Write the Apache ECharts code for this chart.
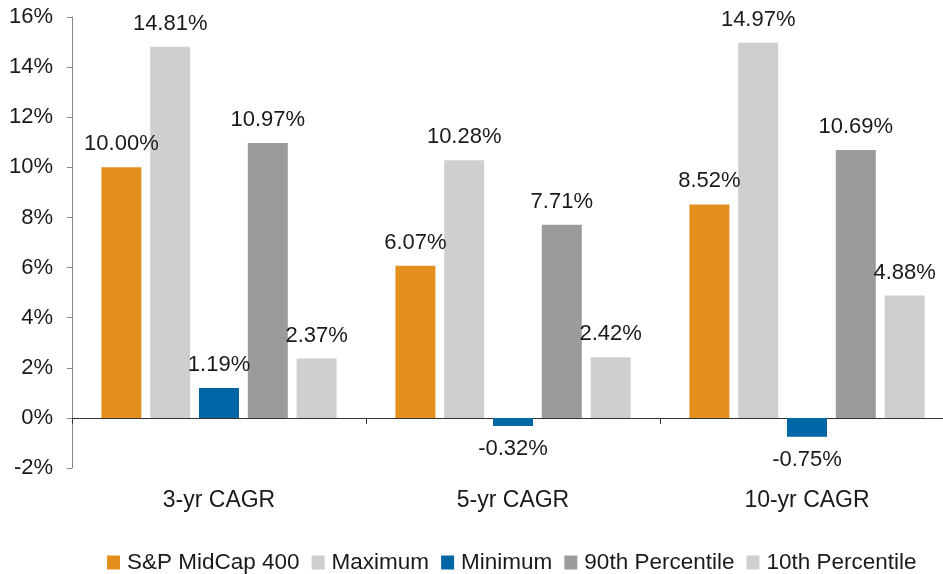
<!DOCTYPE html>
<html>
<head>
<meta charset="utf-8">
<script src="https://cdn.jsdelivr.net/npm/echarts@6/dist/echarts.min.js"></script>
<style>
  html, body { margin: 0; padding: 0; background: #fff; }
  #chart { width: 943px; height: 574px; }
</style>
</head>
<body>
<div id="chart"></div>
<script>
var categories = ['3-yr CAGR', '5-yr CAGR', '10-yr CAGR'];
var seriesNames = ['S&P MidCap 400', 'Maximum', 'Minimum', '90th Percentile', '10th Percentile'];
var midcap = [10.00, 6.07, 8.52];
var maximum = [14.81, 10.28, 14.97];
var minimum = [1.19, -0.32, -0.75];
var pct90 = [10.97, 7.71, 10.69];
var pct10 = [2.37, 2.42, 4.88];
var colors = ['#e28f1e', '#d0cfce', '#0066a6', '#9b9b9e', '#d0cfce'];

var font = 'Liberation Sans, Arial, sans-serif';

function makeSeries(name, values, color) {
    return {
        name: name,
        type: 'bar',
        barWidth: 40,
        barGap: '22%',
        itemStyle: { color: color },
        data: values.map(function (v) {
            return {
                value: v,
                label: { position: v < 0 ? 'bottom' : 'top' }
            }
        }),
        label: {
            show: true,
            distance: 12,
            color: '#1a1a1a',
            fontSize: 22,
            fontFamily: font,
            formatter: function (p) { return p.value.toFixed(2) + '%' }
        }
    }
}

var chart = echarts.init(document.getElementById('chart'));
chart.setOption({
    animation: false,
    color: colors,
    grid: { left: 72, top: 17, width: 882, height: 451, outerBoundsMode: 'none', containLabel: false },
    legend: {
        left: 102,
        top: 546,
        itemWidth: 13,
        itemHeight: 14,
        itemGap: 12,
        icon: 'rect',
        textStyle: { fontSize: 22.5, color: '#1a1a1a', fontFamily: font, padding: [0, 0, 0, 2] },
        data: seriesNames
    },
    xAxis: [
        {
            type: 'category',
            data: categories,
            axisLine: { onZero: true, lineStyle: { color: '#333', width: 1 } },
            axisTick: { show: true, length: 6, lineStyle: { color: '#333' } },
            axisLabel: { show: false }
        },
        {
            type: 'category',
            data: categories,
            position: 'bottom',
            axisLine: { show: false, onZero: false },
            axisTick: { show: false },
            axisLabel: { margin: 21, fontSize: 23, color: '#1a1a1a', fontFamily: font }
        }
    ],
    yAxis: {
        type: 'value',
        min: -2,
        max: 16,
        interval: 2,
        axisLine: { show: true, lineStyle: { color: '#888' } },
        axisTick: { show: true, length: 5, lineStyle: { color: '#888' } },
        splitLine: { show: false },
        axisLabel: {
            margin: 19,
            fontSize: 22,
            color: '#1a1a1a',
            fontFamily: font,
            formatter: '{value}%'
        }
    },
    series: [
        makeSeries(seriesNames[0], midcap, colors[0]),
        makeSeries(seriesNames[1], maximum, colors[1]),
        makeSeries(seriesNames[2], minimum, colors[2]),
        makeSeries(seriesNames[3], pct90, colors[3]),
        makeSeries(seriesNames[4], pct10, colors[4])
    ]
});
</script>
</body>
</html>
